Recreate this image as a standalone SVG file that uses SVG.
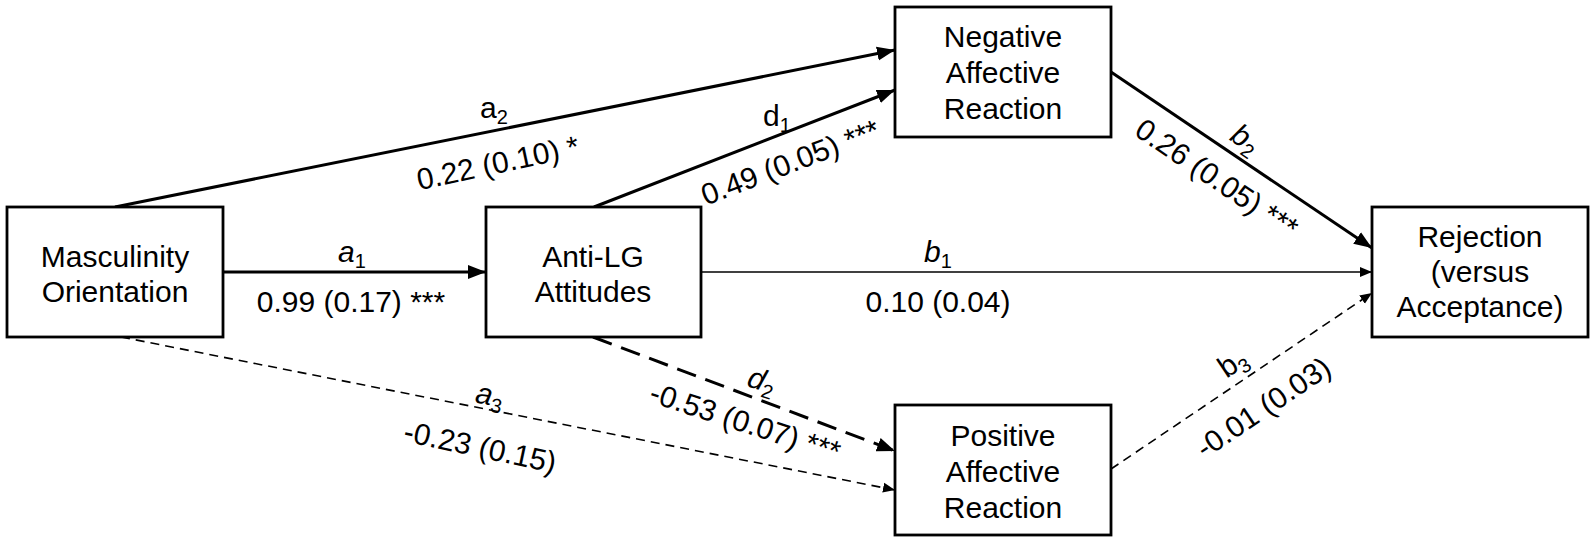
<svg xmlns="http://www.w3.org/2000/svg" width="1595" height="542" viewBox="0 0 1595 542">
<style>
.box{fill:#fff;stroke:#000;stroke-width:2.8}
.t{font-family:"Liberation Sans",Arial,sans-serif;font-size:30px;fill:#000;text-anchor:middle}
.thick{stroke:#000;stroke-width:3;fill:none}
.thin{stroke:#000;stroke-width:1.3;fill:none}
.dthin{stroke:#000;stroke-width:1.6;fill:none;stroke-dasharray:9 6}
.dthick{stroke:#000;stroke-width:3;fill:none;stroke-dasharray:20 10}
.sub{font-size:20px}
</style>
<defs>
<marker id="big" markerUnits="userSpaceOnUse" markerWidth="20" markerHeight="16" refX="18" refY="8" orient="auto"><path d="M0,1 L18,8 L0,15 Z" fill="#000"/></marker>
<marker id="small" markerUnits="userSpaceOnUse" markerWidth="14" markerHeight="12" refX="12" refY="6" orient="auto"><path d="M0,1 L12,6 L0,11 Z" fill="#000"/></marker>
</defs>
<rect width="1595" height="542" fill="#fff"/>
<g id="connectors">
<line class="thick" x1="223" y1="272" x2="486" y2="272" marker-end="url(#big)"/>
<line class="thick" x1="115" y1="207" x2="895" y2="50" marker-end="url(#big)"/>
<line class="thick" x1="594" y1="207" x2="895" y2="90" marker-end="url(#big)"/>
<line class="thick" x1="1111" y1="72" x2="1372" y2="248" marker-end="url(#big)"/>
<line class="thin" x1="701" y1="272" x2="1372" y2="272" marker-end="url(#small)"/>
<line class="dthin" x1="121" y1="337" x2="895" y2="490" marker-end="url(#small)"/>
<line class="dthick" x1="593" y1="337" x2="895" y2="451" marker-end="url(#big)"/>
<line class="dthin" x1="1111" y1="469" x2="1372" y2="293" marker-end="url(#small)"/>
</g>
<g id="labels">
<text class="t" x="352" y="262"><tspan font-style="italic">a</tspan><tspan class="sub" dy="6">1</tspan></text>
<text class="t" x="351" y="312">0.99 (0.17) ***</text>
<text class="t" x="938" y="262"><tspan font-style="italic">b</tspan><tspan class="sub" dy="6">1</tspan></text>
<text class="t" x="938" y="312">0.10 (0.04)</text>
<text class="t" x="494" y="118">a<tspan class="sub" dy="6">2</tspan></text>
<text class="t" transform="translate(500,173) rotate(-12)">0.22 (0.10) *</text>
<text class="t" x="777" y="126">d<tspan class="sub" dy="6">1</tspan></text>
<text class="t" transform="translate(794,172) rotate(-21)">0.49 (0.05) ***</text>
<text class="t" transform="translate(1240,147) rotate(34)"><tspan font-style="italic">b</tspan><tspan class="sub" dy="6">2</tspan></text>
<text class="t" transform="translate(1211,187) rotate(34)">0.26 (0.05) ***</text>
<text class="t" transform="translate(488,405) rotate(11)"><tspan font-style="italic">a</tspan><tspan class="sub" dy="6">3</tspan></text>
<text class="t" transform="translate(478,457) rotate(12)">-0.23 (0.15)</text>
<text class="t" transform="translate(759,390) rotate(18)"><tspan font-style="italic">d</tspan><tspan class="sub" dy="6">2</tspan></text>
<text class="t" transform="translate(742,432) rotate(18)">-0.53 (0.07) ***</text>
<text class="t" transform="translate(1238,371) rotate(-34)">b<tspan class="sub" dy="6">3</tspan></text>
<text class="t" transform="translate(1269,416) rotate(-34)">-0.01 (0.03)</text>
</g>
<g id="masculinity"><rect class="box" x="7" y="207" width="216" height="130"/><text class="t" x="115" y="267">Masculinity</text><text class="t" x="115" y="302">Orientation</text></g>
<g id="antilg"><rect class="box" x="486" y="207" width="215" height="130"/><text class="t" x="593" y="267">Anti-LG</text><text class="t" x="593" y="302">Attitudes</text></g>
<g id="negative"><rect class="box" x="895" y="7" width="216" height="130"/><text class="t" x="1003" y="47">Negative</text><text class="t" x="1003" y="83">Affective</text><text class="t" x="1003" y="119">Reaction</text></g>
<g id="positive"><rect class="box" x="895" y="405" width="216" height="130"/><text class="t" x="1003" y="446">Positive</text><text class="t" x="1003" y="482">Affective</text><text class="t" x="1003" y="518">Reaction</text></g>
<g id="rejection"><rect class="box" x="1372" y="207" width="216" height="130"/><text class="t" x="1480" y="247">Rejection</text><text class="t" x="1480" y="282">(versus</text><text class="t" x="1480" y="317">Acceptance)</text></g>
</svg>
